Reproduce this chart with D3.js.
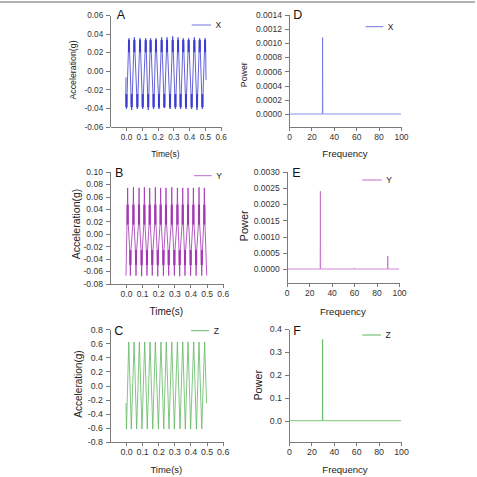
<!DOCTYPE html>
<meta charset="utf-8">
<style>

body {
  margin: 0;
  background: #fff;
}

text {
  font-family: "Liberation Sans", Arial, sans-serif;
  fill: #222;
}

.axis path,
.axis line {
  stroke: #7a7a7a;
  stroke-width: 1px;
  shape-rendering: crispEdges;
}

.axis text {
  fill: #333;
}

.trace {
  fill: none;
  stroke-width: 0.8px;
  stroke-linejoin: round;
}

</style>
<body>
<script src="https://cdnjs.cloudflare.com/ajax/libs/d3/7.8.5/d3.min.js"></script>
<script>

var width = 477,
    height = 477;

// tick labels
var timeTicks = [0, 0.1, 0.2, 0.3, 0.4, 0.5, 0.6];
var freqTicks = [0, 20, 40, 60, 80, 100];
var accTicksX = [-0.06, -0.04, -0.02, 0, 0.02, 0.04, 0.06];
var accTicksY = [-0.08, -0.06, -0.04, -0.02, 0, 0.02, 0.04, 0.06, 0.08, 0.10];
var accTicksZ = [-0.8, -0.6, -0.4, -0.2, 0, 0.2, 0.4, 0.6, 0.8];
var powTicksX = [0, 0.0002, 0.0004, 0.0006, 0.0008, 0.0010, 0.0012, 0.0014];
var powTicksY = [0, 0.0005, 0.0010, 0.0015, 0.0020, 0.0025, 0.0030];
var powTicksZ = [0, 0.1, 0.2, 0.3, 0.4];

// X acceleration: first/last sample, turning points (time s, value g)
var accXStart = [0, -0.007], accXEnd = [0.507, -0.010];
var accXPeakT = [0.019, 0.053, 0.089, 0.125, 0.156, 0.190, 0.226, 0.260, 0.296, 0.330, 0.363, 0.397, 0.433, 0.467, 0.501];
var accXPeakV = [0.035, 0.036, 0.035, 0.035, 0.035, 0.035, 0.036, 0.036, 0.037, 0.036, 0.035, 0.035, 0.036, 0.035, 0.035];
var accXTroughT = [0.003, 0.036, 0.072, 0.106, 0.141, 0.175, 0.209, 0.243, 0.279, 0.313, 0.346, 0.380, 0.416, 0.450, 0.484];
var accXTroughV = [-0.041, -0.042, -0.041, -0.041, -0.042, -0.041, -0.041, -0.040, -0.041, -0.041, -0.041, -0.041, -0.041, -0.042, -0.041];
var accXBandHi = [0.020, 0.033], accXBandLo = [-0.025, -0.039];

// Y acceleration
var accYStart = [0, -0.067], accYEnd = [0.501, -0.067];
var accYPeakT = [0.010, 0.046, 0.081, 0.114, 0.147, 0.182, 0.215, 0.248, 0.284, 0.319, 0.352, 0.385, 0.418, 0.453, 0.486];
var accYPeakV = [0.074, 0.075, 0.074, 0.075, 0.074, 0.075, 0.074, 0.074, 0.075, 0.074, 0.074, 0.074, 0.074, 0.075, 0.074];
var accYTroughT = [0.027, 0.062, 0.097, 0.130, 0.163, 0.197, 0.232, 0.265, 0.300, 0.333, 0.366, 0.401, 0.435, 0.470];
var accYTroughV = [-0.067, -0.067, -0.068, -0.067, -0.067, -0.068, -0.067, -0.067, -0.067, -0.068, -0.067, -0.067, -0.067, -0.067];
var accYBandHi = [0.015, 0.047], accYBandLo = [-0.026, -0.050];

// Z acceleration
var accZStart = [0, -0.25], accZEnd = [0.500, -0.25];
var accZPeakT = [0.017, 0.050, 0.083, 0.116, 0.149, 0.182, 0.217, 0.250, 0.284, 0.319, 0.352, 0.385, 0.420, 0.453, 0.488];
var accZPeakV = [0.62, 0.62, 0.62, 0.62, 0.62, 0.62, 0.62, 0.62, 0.62, 0.62, 0.62, 0.62, 0.62, 0.62, 0.62];
var accZTroughT = [0.003, 0.033, 0.066, 0.099, 0.132, 0.166, 0.201, 0.234, 0.267, 0.300, 0.335, 0.368, 0.401, 0.437, 0.470];
var accZTroughV = [-0.62, -0.62, -0.62, -0.62, -0.62, -0.62, -0.62, -0.62, -0.62, -0.62, -0.62, -0.62, -0.62, -0.62, -0.62];

// power spectra
var powXFreq = [0, 29.8, 30, 30.2, 100];
var powXVal  = [0, 0, 0.00108, 0, 0];
var powYFreq = [0, 29.8, 30, 30.2, 59.8, 60, 60.2, 89.8, 90, 90.2, 100];
var powYVal  = [0, 0, 0.0024, 0, 0, 0.00003, 0, 0, 0.0004, 0, 0];
var powZFreq = [0, 29.8, 30, 30.2, 100];
var powZVal  = [0, 0, 0.355, 0, 0];

// turning points -> polyline; the band values are the dense strokes seen next to each extreme
function buildTrace(start, end, troughT, troughV, peakT, peakV, bandHi, bandLo) {
  var pts = [start], ext = [];
  troughT.forEach(function(t, i) { ext.push({t: t, v: troughV[i], band: bandLo}); });
  peakT.forEach(function(t, i) { ext.push({t: t, v: peakV[i], band: bandHi}); });
  ext.sort(function(a, b) { return a.t - b.t; });
  ext.forEach(function(e) {
    if (e.band) {
      var a = e.band[0], b = e.band[1];
      pts.push([e.t - 0.004, a], [e.t - 0.003, b], [e.t - 0.0025, a], [e.t - 0.0015, b]);
      pts.push([e.t, e.v]);
      pts.push([e.t + 0.0015, b], [e.t + 0.0025, a], [e.t + 0.003, b], [e.t + 0.004, a]);
    } else {
      pts.push([e.t, e.v]);
    }
  });
  pts.push(end);
  return pts;
}

var svg = d3.select("body").append("svg")
    .attr("width", width)
    .attr("height", height);

// thin frame line across the top
svg.append("line")
    .attr("x1", 0).attr("x2", 475)
    .attr("y1", 2).attr("y2", 2)
    .attr("stroke", "#9a9a9a")
    .attr("stroke-width", 1.6);

var fmt2 = function(d) { return d.toFixed(2); };
var fmt1 = function(d) { return d.toFixed(1); };
var fmt4 = function(d) { return d.toFixed(4); };

var panels = [
  { letter: "A", name: "X", color: "#3a3ad0", legendColor: "#7474dc",
    data: buildTrace(accXStart, accXEnd, accXTroughT, accXTroughV, accXPeakT, accXPeakV, accXBandHi, accXBandLo),
    xDomain: [-0.1, 0.6], xRange: [110.2, 220.7], xTicks: timeTicks, xFmt: fmt1,
    yDomain: [-0.06, 0.06], yRange: [126.7, 15], yTicks: accTicksX, yFmt: fmt2,
    xTitle: "Time(s)", xTitleSize: 8.5, xTitleY: 157,
    yTitle: "Acceleration(g)", yTitleSize: 8.8, yTitleX: 72.7, yTitleY: 70,
    tickSize: 8.2, letterX: 116.7, letterY: 19,
    legend: [191.7, 211, 25] },
  { letter: "B", name: "Y", color: "#a232b2", legendColor: "#bc6cc8",
    data: buildTrace(accYStart, accYEnd, accYTroughT, accYTroughV, accYPeakT, accYPeakV, accYBandHi, accYBandLo),
    xDomain: [-0.1, 0.6], xRange: [109.9, 222.7], xTicks: timeTicks, xFmt: fmt1,
    yDomain: [-0.08, 0.10], yRange: [283.7, 171.7], yTicks: accTicksY, yFmt: fmt2,
    xTitle: "Time(s)", xTitleSize: 10, xTitleY: 315,
    yTitle: "Acceleration(g)", yTitleSize: 10.5, yTitleX: 76, yTitleY: 224,
    tickSize: 8.5, letterX: 115, letterY: 176.7,
    legend: [194, 211.7, 175.7] },
  { letter: "C", name: "Z", color: "#62b862", legendColor: "#6cbc6c",
    data: buildTrace(accZStart, accZEnd, accZTroughT, accZTroughV, accZPeakT, accZPeakV, null, null),
    xDomain: [-0.1, 0.6], xRange: [109.9, 222.7], xTicks: timeTicks, xFmt: fmt1,
    yDomain: [-0.8, 0.8], yRange: [441.7, 329.3], yTicks: accTicksZ, yFmt: fmt1,
    xTitle: "Time(s)", xTitleSize: 9.5, xTitleY: 472.5,
    yTitle: "Acceleration(g)", yTitleSize: 10, yTitleX: 78.3, yTitleY: 384,
    tickSize: 8.8, letterX: 114.3, letterY: 335,
    legend: [191, 209.3, 330.7] },
  { letter: "D", name: "X", color: "#7070e0", legendColor: "#7070e0",
    data: powXFreq.map(function(f, i) { return [f, powXVal[i]]; }),
    xDomain: [0, 100], xRange: [289, 401], xTicks: freqTicks, xFmt: d3.format("d"),
    yDomain: [-0.0001875, 0.0014], yRange: [127.3, 14.7], yTicks: powTicksX, yFmt: fmt4,
    xTitle: "Frequency", xTitleSize: 9.6, xTitleY: 157,
    yTitle: "Power", yTitleSize: 8.8, yTitleX: 243.5, yTitleY: 74.7,
    tickSize: 8.5, letterX: 293.3, letterY: 19,
    legend: [365.7, 383.3, 26.7] },
  { letter: "E", name: "Y", color: "#c468cc", legendColor: "#c468cc",
    data: powYFreq.map(function(f, i) { return [f, powYVal[i]]; }),
    xDomain: [0, 100], xRange: [286.7, 399], xTicks: freqTicks, xFmt: d3.format("d"),
    yDomain: [-0.00044, 0.003], yRange: [283.3, 171.7], yTicks: powTicksY, yFmt: fmt4,
    xTitle: "Frequency", xTitleSize: 9.7, xTitleY: 315,
    yTitle: "Power", yTitleSize: 11, yTitleX: 244, yTitleY: 225.8,
    tickSize: 8.5, letterX: 292.3, letterY: 177.3,
    legend: [362.3, 381.7, 180] },
  { letter: "F", name: "Z", color: "#5cb65c", legendColor: "#5cb65c",
    data: powZFreq.map(function(f, i) { return [f, powZVal[i]]; }),
    xDomain: [0, 100], xRange: [289, 401], xTicks: freqTicks, xFmt: d3.format("d"),
    yDomain: [-0.0916, 0.4], yRange: [441.7, 329], yTicks: powTicksZ, yFmt: fmt1,
    xTitle: "Frequency", xTitleSize: 9.6, xTitleY: 472.5,
    yTitle: "Power", yTitleSize: 10.8, yTitleX: 258, yTitleY: 385.3,
    tickSize: 8.8, letterX: 293.3, letterY: 335,
    legend: [362.3, 381, 335] }
];

panels.forEach(function(p) {
  var x = d3.scaleLinear().domain(p.xDomain).range(p.xRange),
      y = d3.scaleLinear().domain(p.yDomain).range(p.yRange);

  var g = svg.append("g");

  g.append("g")
      .attr("class", "axis")
      .attr("transform", "translate(0," + p.yRange[0] + ")")
      .call(d3.axisBottom(x).tickValues(p.xTicks).tickFormat(p.xFmt)
        .tickSize(4).tickPadding(3).tickSizeOuter(0))
      .call(function(a) { a.selectAll("text").style("font-size", p.tickSize + "px"); });

  g.append("g")
      .attr("class", "axis")
      .attr("transform", "translate(" + p.xRange[0] + ",0)")
      .call(d3.axisLeft(y).tickValues(p.yTicks).tickFormat(p.yFmt)
        .tickSize(4).tickPadding(3).tickSizeOuter(0))
      .call(function(a) { a.selectAll("text").style("font-size", p.tickSize + "px"); });

  var line = d3.line()
      .x(function(d) { return x(d[0]); })
      .y(function(d) { return y(d[1]); });

  g.append("path")
      .datum(p.data)
      .attr("class", "trace")
      .attr("stroke", p.color)
      .attr("d", line);

  // legend
  g.append("line")
      .attr("x1", p.legend[0]).attr("x2", p.legend[1])
      .attr("y1", p.legend[2]).attr("y2", p.legend[2])
      .attr("stroke", p.legendColor)
      .attr("stroke-width", 1);

  g.append("text")
      .attr("x", p.legend[1] + 4.5)
      .attr("y", p.legend[2])
      .attr("dy", "0.35em")
      .style("font-size", "8.5px")
      .text(p.name);

  // panel letter
  g.append("text")
      .attr("x", p.letterX)
      .attr("y", p.letterY)
      .style("font-size", "12.5px")
      .style("fill", "#111")
      .text(p.letter);

  g.append("text")
      .attr("x", (p.xRange[0] + p.xRange[1]) / 2)
      .attr("y", p.xTitleY)
      .attr("text-anchor", "middle")
      .style("font-size", p.xTitleSize + "px")
      .text(p.xTitle);

  g.append("text")
      .attr("transform", "translate(" + p.yTitleX + "," + p.yTitleY + ") rotate(-90)")
      .attr("text-anchor", "middle")
      .attr("dy", "0.35em")
      .style("font-size", p.yTitleSize + "px")
      .text(p.yTitle);
});

</script>
